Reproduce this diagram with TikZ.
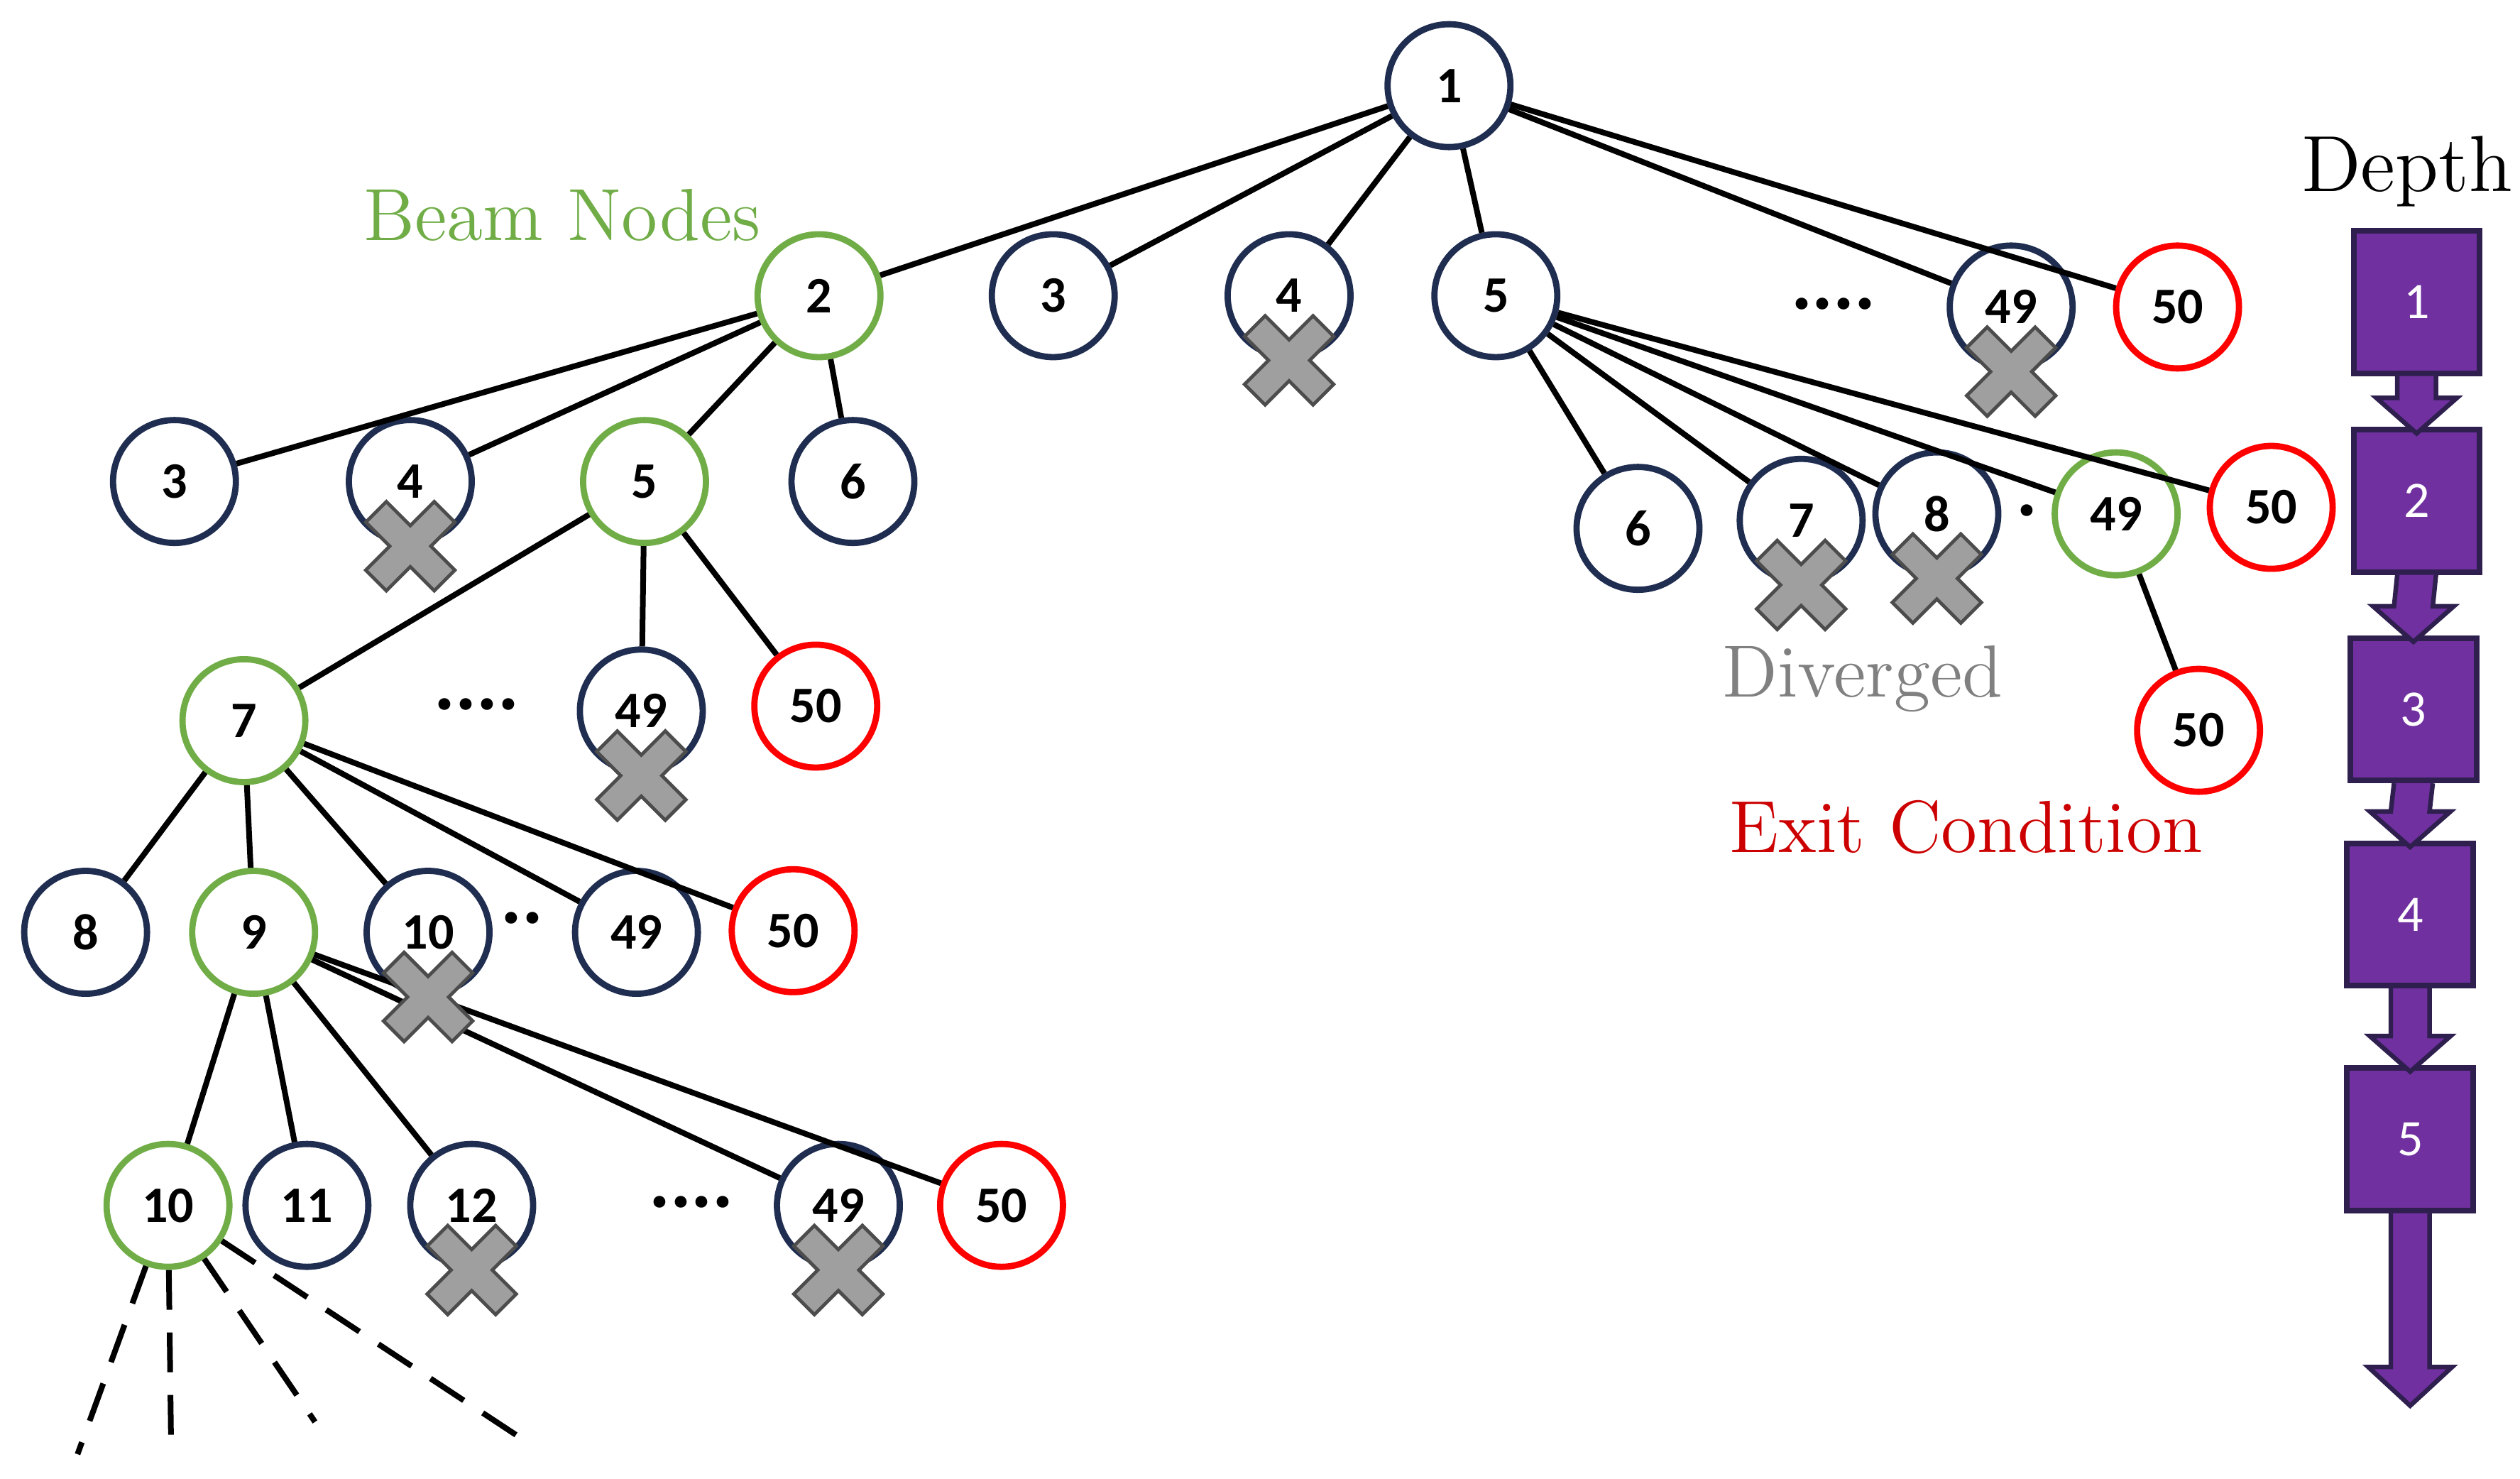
\documentclass[tikz,border=0pt]{standalone}
\usepackage{fontspec}
\usetikzlibrary{calc}
\newfontfamily\carl{Carlito}
\begin{document}
\begin{tikzpicture}[x=0.01cm,y=-0.01cm,
 nd/.style={circle,draw=navy,line width=1.1pt,fill=white,minimum size=0.76cm,inner sep=0pt,font=\carl\bfseries\fontsize{9}{10}\selectfont},
 gn/.style={nd,draw=beam},
 rd/.style={nd,draw=red},
 ed/.style={line width=1pt,black},
 dots/.style={font=\carl\bfseries\fontsize{14}{14}\selectfont},
 lab/.style={font=\fontsize{13}{14}\selectfont},
 box/.style={draw=boxline,fill=purp,line width=1pt,minimum width=0.78cm,minimum height=0.88cm,inner sep=0pt,text=white,font=\carl\fontsize{9}{10}\selectfont},
 xmark/.pic={\draw[fill=gray!75,draw=black!70,line width=0.6pt,rotate=45]
 (9,30)--(9,9)--(30,9)--(30,-9)--(9,-9)--(9,-30)--(-9,-30)--(-9,-9)--(-30,-9)--(-30,9)--(-9,9)--(-9,30)--cycle;}]
\definecolor{navy}{HTML}{1F2D50}
\definecolor{beam}{HTML}{70AD47}
\definecolor{purp}{HTML}{7030A0}
\definecolor{boxline}{HTML}{2E1F4F}
\useasboundingbox (0,0) rectangle (1560,915);
% nodes
\node[nd] (n1) at (897,53) {1};
\node[gn] (a2) at (507,183) {2};
\node[nd] (a3) at (652,183) {3};
\node[nd] (a4) at (798,183) {4};
\node[nd] (a5) at (926,183) {5};
\node[nd] (a49) at (1245,190) {49};
\node[rd] (a50) at (1348,190) {50};
\node[dots] (ad) at (1135,188) {....};
\node[nd] (b3) at (108,298) {3};
\node[nd] (b4) at (254,298) {4};
\node[gn] (b5) at (399,298) {5};
\node[nd] (b6) at (528,298) {6};
\node[nd] (c6) at (1014,327) {6};
\node[nd] (c7) at (1115,322) {7};
\node[nd] (c8) at (1199,318) {8};
\node[dots] (cd) at (1255,316) {.};
\node[gn] (c49) at (1310,318) {49};
\node[rd] (c50) at (1406,314) {50};
\node[rd] (d50) at (1361,452) {50};
\node[gn] (e7) at (151,446) {7};
\node[dots] (ed) at (295,436) {....};
\node[nd] (e49) at (397,440) {49};
\node[rd] (e50) at (505,437) {50};
\node[nd] (f8) at (53,577) {8};
\node[gn] (f9) at (157,577) {9};
\node[nd] (f10) at (265,577) {10};
\node[dots] (fd) at (323,568) {..};
\node[nd] (f49) at (394,577) {49};
\node[rd] (f50) at (491,576) {50};
\node[gn] (g10) at (104,746) {10};
\node[nd] (g11) at (190,746) {11};
\node[nd] (g12) at (292,746) {12};
\node[dots] (gd) at (428,744) {....};
\node[nd] (g49) at (519,746) {49};
\node[rd] (g50) at (620,746) {50};
\coordinate (h1) at (48,900);
\coordinate (h2) at (106,900);
\coordinate (h3) at (195,880);
\coordinate (h4) at (330,895);
% edges
\foreach \c in {a2,a3,a4,a5,a49,a50} \draw[ed] (n1) -- (\c);
\foreach \c in {b3,b4,b5,b6} \draw[ed] (a2) -- (\c);
\foreach \c in {c6,c7,c8,c49,c50} \draw[ed] (a5) -- (\c);
\draw[ed] (c49) -- (d50);
\foreach \c in {e7,e49,e50} \draw[ed] (b5) -- (\c);
\foreach \c in {f8,f9,f10,f49,f50} \draw[ed] (e7) -- (\c);
\foreach \c in {g10,g11,g12,g49,g50} \draw[ed] (f9) -- (\c);
\foreach \c in {h1,h2,h3,h4} \draw[ed,dash pattern=on 7pt off 4pt] (g10) -- (\c);
% crosses
\foreach \p in {a4,a49,b4,c7,c8,e49,f10,g12,g49} \pic at ([yshift=-0.4cm]\p.center) {xmark};
% labels
\node[lab,text=beam] (lb) at (348,133) {Beam Nodes};
\node[lab,text=gray] (ld) at (1153,420) {Diverged};
\node[lab,text=red!80!black] (le) at (1217,512) {Exit Condition};
\node[font=\fontsize{14}{15}\selectfont] (dp) at (1490,106) {Depth};
% depth column
\node[box] (k1) at (1496,187) {1};
\node[box] (k2) at (1496,310) {2};
\node[box] (k3) at (1494,439) {3};
\node[box] (k4) at (1492,566) {4};
\node[box] (k5) at (1492,705) {5};
\coordinate (kend) at (1492,870);
\foreach \a/\b in {k1/k2,k2/k3,k3/k4,k4/k5} {
 \filldraw[fill=purp,draw=boxline,line width=0.8pt] ($(\a.south)+(-12,0)$) -- ($(\b.north)+(-12,-18)$) -- ($(\b.north)+(-25,-18)$) -- ($(\b.north)+(0,4)$) -- ($(\b.north)+(25,-18)$) -- ($(\b.north)+(12,-18)$) -- ($(\a.south)+(12,0)$);
}
\filldraw[fill=purp,draw=boxline,line width=0.8pt] ($(k5.south)+(-12,0)$) -- ($(kend)+(-12,-24)$) -- ($(kend)+(-26,-24)$) -- (kend) -- ($(kend)+(26,-24)$) -- ($(kend)+(12,-24)$) -- ($(k5.south)+(12,0)$);
\end{tikzpicture}
\end{document}
